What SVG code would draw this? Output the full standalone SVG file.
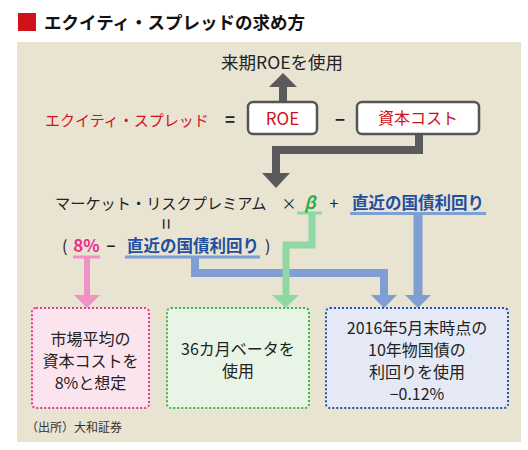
<svg xmlns="http://www.w3.org/2000/svg" width="528" height="450" viewBox="0 0 528 450">
<style>
text{font-family:"Noto Sans CJK JP","Noto Sans",sans-serif;fill:#222}
.red{fill:#d0121b}
.blu{fill:#1f4fa0;font-weight:bold}
.pnk{fill:#e8318a;font-weight:bold}
.grn{fill:#2fae4a;font-weight:bold;font-style:italic}
.src{fill:#333}
.ttl{fill:#111;font-weight:bold}
.bt{font-size:16px;text-anchor:middle}
.box{fill:#fff;stroke:#555;stroke-width:2.5}
.gl{fill:none;stroke:#5a5a5a;stroke-width:8}
.bl{fill:none;stroke:#7f9ed3}
.gr{fill:none;stroke:#8fd8a4}
.pk{fill:none;stroke:#f291c6}
.dot{stroke-width:2;stroke-dasharray:2 2}
</style>
<rect x="0" y="0" width="528" height="450" fill="#fff"/>
<g id="title">
<rect x="18" y="13" width="18" height="18" fill="#d0121b"/>
<text x="44" y="29" font-size="17.5" class="ttl">エクイティ・スプレッドの求め方</text>
</g>
<rect id="panel" x="17" y="42" width="504" height="400" fill="#e9e3d2"/>
<g id="connectors">
<line x1="283" y1="102" x2="283" y2="86" class="gl"/>
<polygon points="269,87 297,87 283,73" fill="#5a5a5a"/>
<path d="M419,134 V150 H276 V175" class="gl"/>
<polygon points="262,173 290,173 276,188" fill="#5a5a5a"/>
<line x1="73" y1="257" x2="100" y2="257" class="pk" stroke-width="3"/>
<line x1="87" y1="257" x2="87" y2="296" class="pk" stroke-width="6"/>
<polygon points="74,295 100,295 87,308" fill="#f291c6"/>
<line x1="350" y1="213.5" x2="486" y2="213.5" class="bl" stroke-width="3"/>
<line x1="125" y1="257" x2="260" y2="257" class="bl" stroke-width="3"/>
<line x1="418" y1="213" x2="418" y2="296" class="bl" stroke-width="9"/>
<polygon points="405,295 431,295 418,308" fill="#7f9ed3"/>
<path d="M195,257 V273 H384 V296" class="bl" stroke-width="8"/>
<polygon points="371,295 397,295 384,308" fill="#7f9ed3"/>
<line x1="297" y1="213" x2="322" y2="213" class="gr" stroke-width="3"/>
<path d="M312,213 V245 H286 V296" class="gr" stroke-width="7"/>
<polygon points="272,295 299,295 285.5,308" fill="#8fd8a4"/>
</g>
<g id="roe-next">
<text x="282" y="69" font-size="17.5" text-anchor="middle">来期ROEを使用</text>
</g>
<g id="equity-spread">
<text x="45" y="126" font-size="15" class="red">エクイティ・スプレッド</text>
<text x="230" y="126" font-size="17" text-anchor="middle" font-weight="bold">=</text>
<text x="340" y="126" font-size="17" text-anchor="middle" font-weight="bold">−</text>
</g>
<g id="roe">
<rect x="248" y="102" width="69" height="32" rx="5" class="box"/>
<text x="282.5" y="125" font-size="17" text-anchor="middle" class="red">ROE</text>
</g>
<g id="cost">
<rect x="357" y="102" width="122" height="32" rx="5" class="box"/>
<text x="418" y="124" font-size="16" text-anchor="middle" class="red">資本コスト</text>
</g>
<g id="formula">
<text x="55" y="209" font-size="15.2">マーケット・リスクプレミアム</text>
<text x="289" y="209" font-size="15" text-anchor="middle">×</text>
<text x="310" y="209" font-size="17" text-anchor="middle" class="grn">β</text>
<text x="334" y="209" font-size="16" text-anchor="middle">+</text>
<text x="352" y="209" font-size="16.5" class="blu">直近の国債利回り</text>
<text x="165" y="230" font-size="20" text-anchor="middle" transform="rotate(90 165 224)">=</text>
<text x="62" y="252" font-size="16">(</text>
<text x="86.5" y="252" font-size="17" text-anchor="middle" class="pnk">8%</text>
<text x="111" y="252" font-size="15" text-anchor="middle" font-weight="bold">−</text>
<text x="127" y="252" font-size="16.5" class="blu">直近の国債利回り</text>
<text x="265" y="252" font-size="16">)</text>
</g>
<g id="box-pink">
<rect x="32" y="308" width="117" height="100" rx="4" fill="#fce4ef" stroke="#e23b8c" class="dot"/>
<text x="90.5" y="345" class="bt">市場平均の</text>
<text x="90.5" y="367" class="bt">資本コストを</text>
<text x="90.5" y="389" class="bt">8%と想定</text>
</g>
<g id="box-green">
<rect x="167" y="308" width="142" height="100" rx="4" fill="#e8f5e6" stroke="#3fb34f" class="dot"/>
<text x="238" y="355" class="bt">36カ月ベータを</text>
<text x="238" y="377" class="bt">使用</text>
</g>
<g id="box-blue">
<rect x="326" y="308" width="182" height="100" rx="4" fill="#e5e9f5" stroke="#2255aa" class="dot"/>
<text x="417" y="334" class="bt">2016年5月末時点の</text>
<text x="417" y="356" class="bt">10年物国債の</text>
<text x="417" y="378" class="bt">利回りを使用</text>
<text x="417" y="400" class="bt">−0.12%</text>
</g>
<g id="source">
<text x="26" y="432" font-size="12" class="src">（出所）大和証券</text>
</g>
</svg>
